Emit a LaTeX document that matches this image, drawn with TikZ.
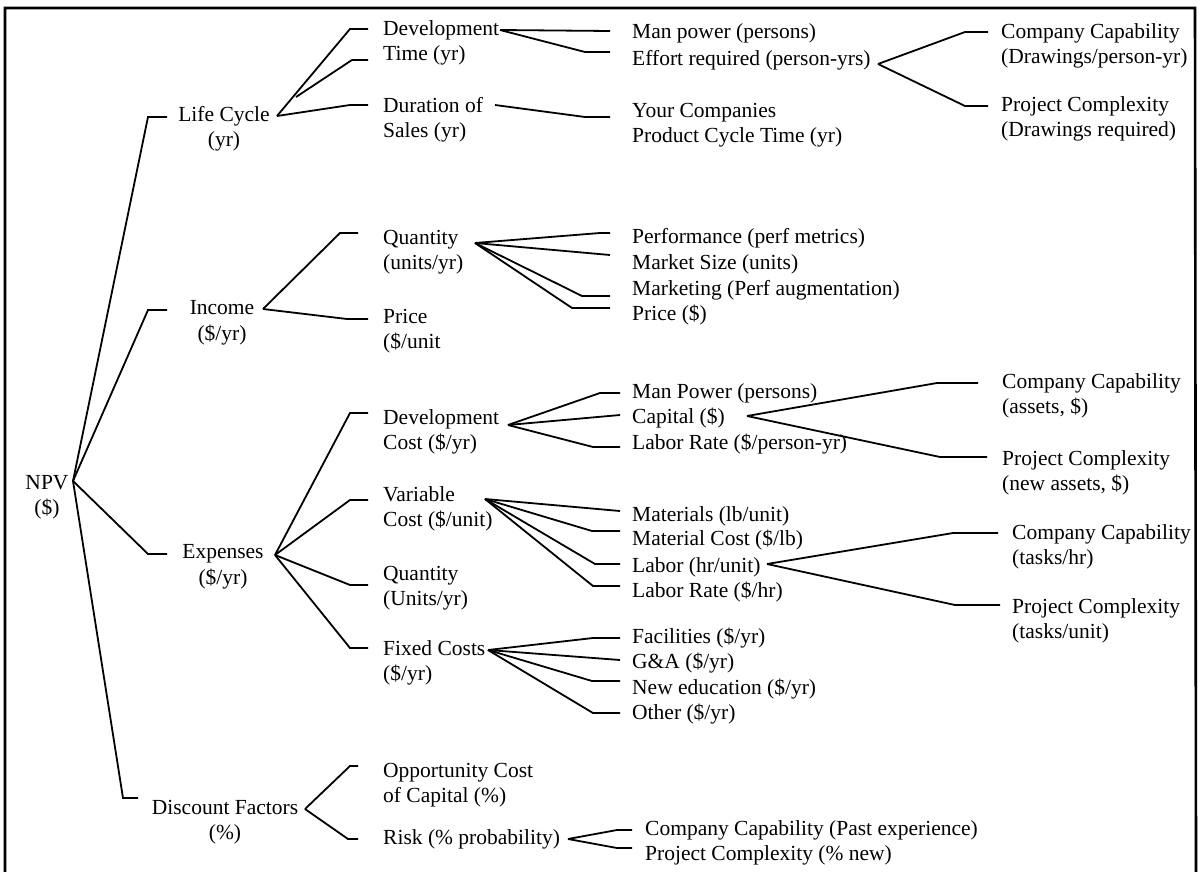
\documentclass[tikz,border=0pt]{standalone}
\usepackage{fontspec}
\setmainfont{Liberation Serif}
\begin{document}
\begin{tikzpicture}[x=1pt,y=-1pt,
  txt/.style={inner sep=0pt, font=\fontsize{21.5}{25.5}\selectfont},
  lft/.style={txt, align=left, anchor=west},
  ctr/.style={txt, align=center, anchor=center},
  link/.style={line width=1.8pt},
  frame/.style={line width=2.6pt}]
\useasboundingbox (0,0) rectangle (1202,872);
\draw[frame] (5,872) -- (5,8) -- (1195,8) -- (1196,872);

% ---- labels ----
\node[ctr] (npv) at (47,497) {NPV\\(\$)};
\node[ctr] (lc)  at (224,129) {Life Cycle\\(yr)};
\node[ctr] (inc) at (222,323) {Income\\(\$/yr)};
\node[ctr] (exp) at (223,567) {Expenses\\(\$/yr)};
\node[ctr] (df)  at (225,822) {Discount Factors\\(\%)};

\node[lft] (dt)  at (383,43)  {Development\\Time (yr)};
\node[lft] (ds)  at (383,120) {Duration of\\Sales (yr)};
\node[lft] (mp)  at (632,33)  {Man power (persons)};
\node[lft] (er)  at (632,60)  {Effort required (person-yrs)};
\node[lft] (yc)  at (632,125) {Your Companies\\Product Cycle Time (yr)};
\node[lft] (cc1) at (1001,46) {Company Capability\\(Drawings/person-yr)};
\node[lft] (pc1) at (1001,119) {Project Complexity\\(Drawings required)};

\node[lft] (q1)  at (383,252) {Quantity\\(units/yr)};
\node[lft] (pr)  at (383,331) {Price\\(\$/unit};
\node[lft] (perf) at (632,238) {Performance (perf metrics)};
\node[lft] (ms)  at (632,264) {Market Size (units)};
\node[lft] (mk)  at (632,290) {Marketing (Perf augmentation)};
\node[lft] (pr2) at (632,315) {Price (\$)};

\node[lft] (dc)  at (383,432) {Development\\Cost (\$/yr)};
\node[lft] (mp2) at (632,393) {Man Power (persons)};
\node[lft] (cap) at (632,418) {Capital (\$)};
\node[lft] (lr)  at (632,444) {Labor Rate (\$/person-yr)};
\node[lft] (cc2) at (1002,396) {Company Capability\\(assets, \$)};
\node[lft] (pc2) at (1002,473) {Project Complexity\\(new assets, \$)};

\node[lft] (vc)  at (383,509) {Variable\\Cost (\$/unit)};
\node[lft] (mat) at (632,516) {Materials (lb/unit)};
\node[lft] (mc)  at (632,540) {Material Cost (\$/lb)};
\node[lft] (lab) at (632,567) {Labor (hr/unit)};
\node[lft] (lr2) at (632,592) {Labor Rate (\$/hr)};
\node[lft] (cc3) at (1012,547) {Company Capability\\(tasks/hr)};
\node[lft] (pc3) at (1012,621) {Project Complexity\\(tasks/unit)};

\node[lft] (q2)  at (383,588) {Quantity\\(Units/yr)};
\node[lft] (fc)  at (383,663) {Fixed Costs\\(\$/yr)};
\node[lft] (fac) at (632,638) {Facilities (\$/yr)};
\node[lft] (ga)  at (632,663) {G\&A (\$/yr)};
\node[lft] (ne)  at (632,689) {New education (\$/yr)};
\node[lft] (oth) at (632,714) {Other (\$/yr)};

\node[lft] (oc)  at (383,785) {Opportunity Cost\\of Capital (\%)};
\node[lft] (risk) at (383,839) {Risk (\% probability)};
\node[lft] (cc4) at (645,830) {Company Capability (Past experience)};
\node[lft] (pc4) at (645,855) {Project Complexity (\% new)};

% ---- connector ports ----
\coordinate (npv-o) at (73,481);
\coordinate (lc-i) at (167,117);   \coordinate (lc-o) at (277,116);
\coordinate (inc-i) at (167,310);  \coordinate (inc-o) at (263,309);
\coordinate (exp-i) at (167,554);  \coordinate (exp-o) at (275,555);
\coordinate (df-i) at (138,798);   \coordinate (df-o) at (305,809);

\coordinate (dt-i) at (368,29);    \coordinate (dt-o) at (500,30);
\coordinate (dt2-o) at (296,97);   \coordinate (dt2-i) at (368,60);
\coordinate (ds-i) at (368,105);   \coordinate (ds-o) at (495,105);
\coordinate (mp-i) at (610,31);
\coordinate (er-i) at (610,52);    \coordinate (er-o) at (878,64);
\coordinate (yc-i) at (610,117);
\coordinate (cc1-i) at (988,32);   \coordinate (pc1-i) at (988,106);

\coordinate (q1-i) at (358,233);   \coordinate (q1-o) at (475,243);
\coordinate (pr-i) at (368,319);
\coordinate (perf-i) at (610,233); \coordinate (ms-i) at (610,255);
\coordinate (mk-i) at (610,296);   \coordinate (pr2-i) at (610,308);

\coordinate (dc-i) at (368,413);   \coordinate (dc-o) at (508,425);
\coordinate (mp2-i) at (620,393);  \coordinate (cap-i) at (620,415);
\coordinate (cap-o) at (747,416);  \coordinate (lr-i) at (620,447);
\coordinate (cc2-i) at (978,383);  \coordinate (pc2-i) at (987,457);

\coordinate (vc-i) at (368,500);   \coordinate (vc-o) at (485,499);
\coordinate (mat-i) at (620,511);  \coordinate (mc-i) at (620,531);
\coordinate (lab-i) at (620,564);  \coordinate (lab-o) at (767,564);
\coordinate (lr2-i) at (620,586);
\coordinate (cc3-i) at (998,533);  \coordinate (pc3-i) at (1000,605);

\coordinate (q2-i) at (368,585);
\coordinate (fc-i) at (368,648);   \coordinate (fc-o) at (488,650);
\coordinate (fac-i) at (620,638);  \coordinate (ga-i) at (620,660);
\coordinate (ne-i) at (620,681);   \coordinate (oth-i) at (620,713);

\coordinate (oc-i) at (358,766);   \coordinate (risk-i) at (358,839);
\coordinate (risk-o) at (568,839);
\coordinate (cc4-i) at (632,830);  \coordinate (pc4-i) at (632,848);

% ---- connectors: slanted run, then a short level stub ----
\begin{scope}[link]
\draw (npv-o) -- ([xshift=-19pt]lc-i) -- (lc-i);
\draw (npv-o) -- ([xshift=-19pt]inc-i) -- (inc-i);
\draw (npv-o) -- ([xshift=-19pt]exp-i) -- (exp-i);
\draw (npv-o) -- ([xshift=-15pt]df-i) -- (df-i);

\draw (lc-o) -- ([xshift=-18pt]dt-i) -- (dt-i);
\draw (dt2-o) -- ([xshift=-16pt]dt2-i) -- (dt2-i);
\draw (lc-o) -- ([xshift=-18pt]ds-i) -- (ds-i);

\draw (dt-o) -- (mp-i);
\draw (dt-o) -- ([xshift=-25pt]er-i) -- (er-i);
\draw (ds-o) -- ([xshift=-25pt]yc-i) -- (yc-i);
\draw (er-o) -- ([xshift=-23pt]cc1-i) -- (cc1-i);
\draw (er-o) -- ([xshift=-23pt]pc1-i) -- (pc1-i);

\draw (inc-o) -- ([xshift=-18pt]q1-i) -- (q1-i);
\draw (inc-o) -- ([xshift=-21pt]pr-i) -- (pr-i);
\draw (q1-o) -- ([xshift=-10pt]perf-i) -- (perf-i);
\draw (q1-o) -- (ms-i);
\draw (q1-o) -- ([xshift=-28pt]mk-i) -- (mk-i);
\draw (q1-o) -- ([xshift=-38pt]pr2-i) -- (pr2-i);

\draw (exp-o) -- ([xshift=-18pt]dc-i) -- (dc-i);
\draw (exp-o) -- ([xshift=-18pt]vc-i) -- (vc-i);
\draw (exp-o) -- ([xshift=-18pt]q2-i) -- (q2-i);
\draw (exp-o) -- ([xshift=-18pt]fc-i) -- (fc-i);

\draw (dc-o) -- ([xshift=-20pt]mp2-i) -- (mp2-i);
\draw (dc-o) -- (cap-i);
\draw (dc-o) -- ([xshift=-27pt]lr-i) -- (lr-i);
\draw (cap-o) -- ([xshift=-41pt]cc2-i) -- (cc2-i);
\draw (cap-o) -- ([xshift=-47pt]pc2-i) -- (pc2-i);

\draw (vc-o) -- (mat-i);
\draw (vc-o) -- ([xshift=-28pt]mc-i) -- (mc-i);
\draw (vc-o) -- ([xshift=-25pt]lab-i) -- (lab-i);
\draw (vc-o) -- ([xshift=-27pt]lr2-i) -- (lr2-i);
\draw (lab-o) -- ([xshift=-45pt]cc3-i) -- (cc3-i);
\draw (lab-o) -- ([xshift=-45pt]pc3-i) -- (pc3-i);

\draw (fc-o) -- ([xshift=-27pt]fac-i) -- (fac-i);
\draw (fc-o) -- (ga-i);
\draw (fc-o) -- ([xshift=-28pt]ne-i) -- (ne-i);
\draw (fc-o) -- ([xshift=-27pt]oth-i) -- (oth-i);

\draw (df-o) -- ([xshift=-8pt]oc-i) -- (oc-i);
\draw (df-o) -- ([xshift=-10pt]risk-i) -- (risk-i);
\draw (risk-o) -- ([xshift=-15pt]cc4-i) -- (cc4-i);
\draw (risk-o) -- ([xshift=-15pt]pc4-i) -- (pc4-i);
\end{scope}
\end{tikzpicture}
\end{document}
